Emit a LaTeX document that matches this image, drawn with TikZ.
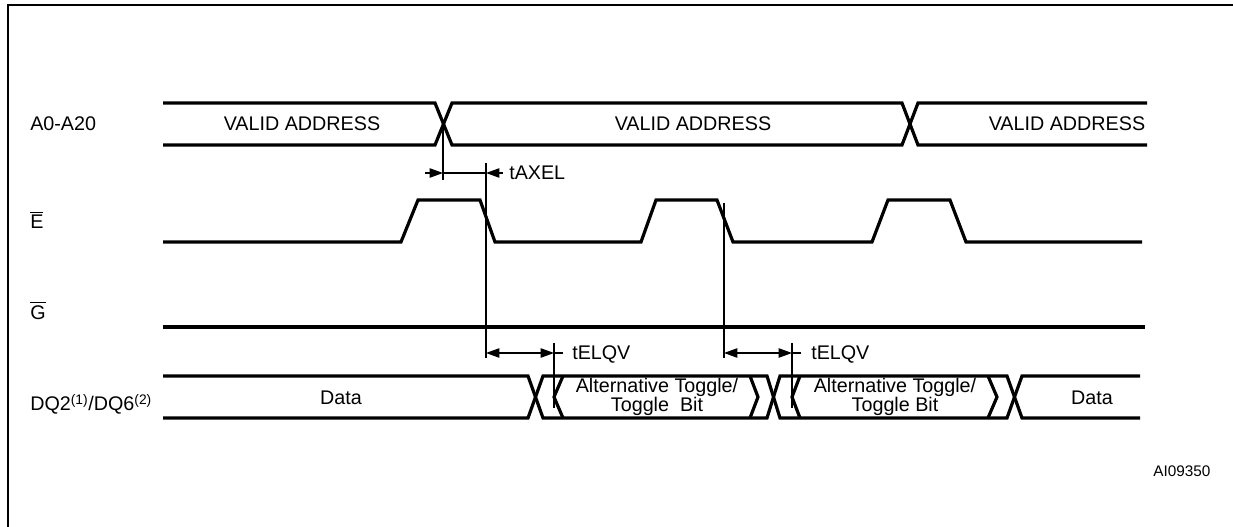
\documentclass[tikz,border=0pt]{standalone}
\usepackage{fontspec}
\setmainfont{Liberation Sans}
\usetikzlibrary{arrows.meta, positioning}
\newcommand{\tdfont}{\fontsize{14.8}{14.2}\selectfont}
% bar over a signal name, set a little above the letter
\newcommand{\barsig}[1]{\setbox0\hbox{#1}\rlap{\rule[\dimexpr\ht0+2.2pt\relax]{\wd0}{0.7pt}}\box0}

\tikzset{
  bus/.style={line width=2.4pt},
  guide/.style={line width=0.9pt},
  tip/.style={-{Triangle[length=10pt,width=7pt]}},
  lbl/.style={anchor=base west, inner sep=0pt, font=\tdfont},
  txt/.style={anchor=base, inner sep=0pt, font=\tdfont},
}

\begin{document}
\begin{tikzpicture}[x=0.75pt, y=-0.75pt]
    \useasboundingbox (0,0) rectangle (1233,527);
    % frame
    \draw[line width=1.6pt] (8,527) -- (8,5) -- (1233,5);

    % signal names
    \node[lbl] (nA) at (30,131) {A0-A20};
    \node[lbl] (nE) at (30,229) {\barsig{E}};
    \node[lbl] (nG) at (30,320) {\barsig{G}};
    \node[lbl] (nDQ) at (30,411) {DQ2\textsuperscript{(1)}/DQ6\textsuperscript{(2)}};

    % address bus
    \draw[bus] (163,103) -- (435,103) -- (452,145) -- (902,145) -- (918,103) -- (1147,103);
    \draw[bus] (163,145) -- (435,145) -- (452,103) -- (902,103) -- (918,145) -- (1147,145);
    \node[txt] (va1) at (302,131) {VALID ADDRESS};
    \node[txt] (va2) at (693,131) {VALID ADDRESS};
    \node[txt] (va3) at (1067,131) {VALID ADDRESS};

    % chip enable
    \draw[bus] (163,242) -- (401,242) -- (418,200) -- (480,200) -- (495,242)
        -- (641,242) -- (656,200) -- (717,200) -- (733,242)
        -- (872,242) -- (888,200) -- (950,200) -- (966,242) -- (1142,242);

    % output enable
    \draw[bus] (163,327) -- (1145,327);

    % data bus
    \draw[bus] (163,376) -- (528,376) -- (543,418) -- (767,418) -- (780,376)
        -- (1007,376) -- (1022,418) -- (1140,418);
    \draw[bus] (163,418) -- (528,418) -- (543,376) -- (767,376) -- (780,418)
        -- (1007,418) -- (1022,376) -- (1140,376);
    \foreach \a/\b in {563/554, 800/792, 750/758, 988/997} {
        \draw[bus] (\a,376) -- (\b,397) -- (\a,418);
    }
    \node[txt] (d1) at (341,405) {Data};
    \node[txt] (d2) at (1092,405) {Data};
    \node[txt] (t1) at (657,393) {Alternative Toggle/};
    \node[txt] (t1b) at (657,412) {Toggle\ \ Bit};
    \node[txt] (t2) at (895,393) {Alternative Toggle/};
    \node[txt] (t2b) at (895,412) {Toggle Bit};

    % timing marks
    \coordinate (xA) at (443,124);
    \coordinate (fE1) at (486,163);
    \coordinate (fE2) at (724,203);
    \draw[guide] (xA) -- (443,180);
    \draw[guide] (fE1) -- (486,358);
    \draw[guide] (fE2) -- (724,358);
    \draw[guide] (554,343) -- (554,408);
    \draw[guide] (792,343) -- (792,408);

    % tAXEL
    \draw[guide, tip] (425,173) -- (443,173);
    \draw[guide] (443,173) -- (486,173);
    \draw[guide, tip] (503,173) -- (486,173);
    \node[lbl] (tAXEL) at (509,180) {tAXEL};

    % tELQV
    \foreach \s/\e in {486/554, 724/792} {
        \draw[guide, tip] (\s+30,353) -- (\s,353);
        \draw[guide, tip] (\s+30,353) -- (\e,353);
        \draw[guide] (\e,353) -- (\e+9,353);
    }
    \node[lbl] (tELQV1) at (572,360) {tELQV};
    \node[lbl] (tELQV2) at (811,360) {tELQV};

    \node[lbl, font=\fontsize{11.5}{14}\selectfont] (fig) at (1153,477) {AI09350};
\end{tikzpicture}
\end{document}
